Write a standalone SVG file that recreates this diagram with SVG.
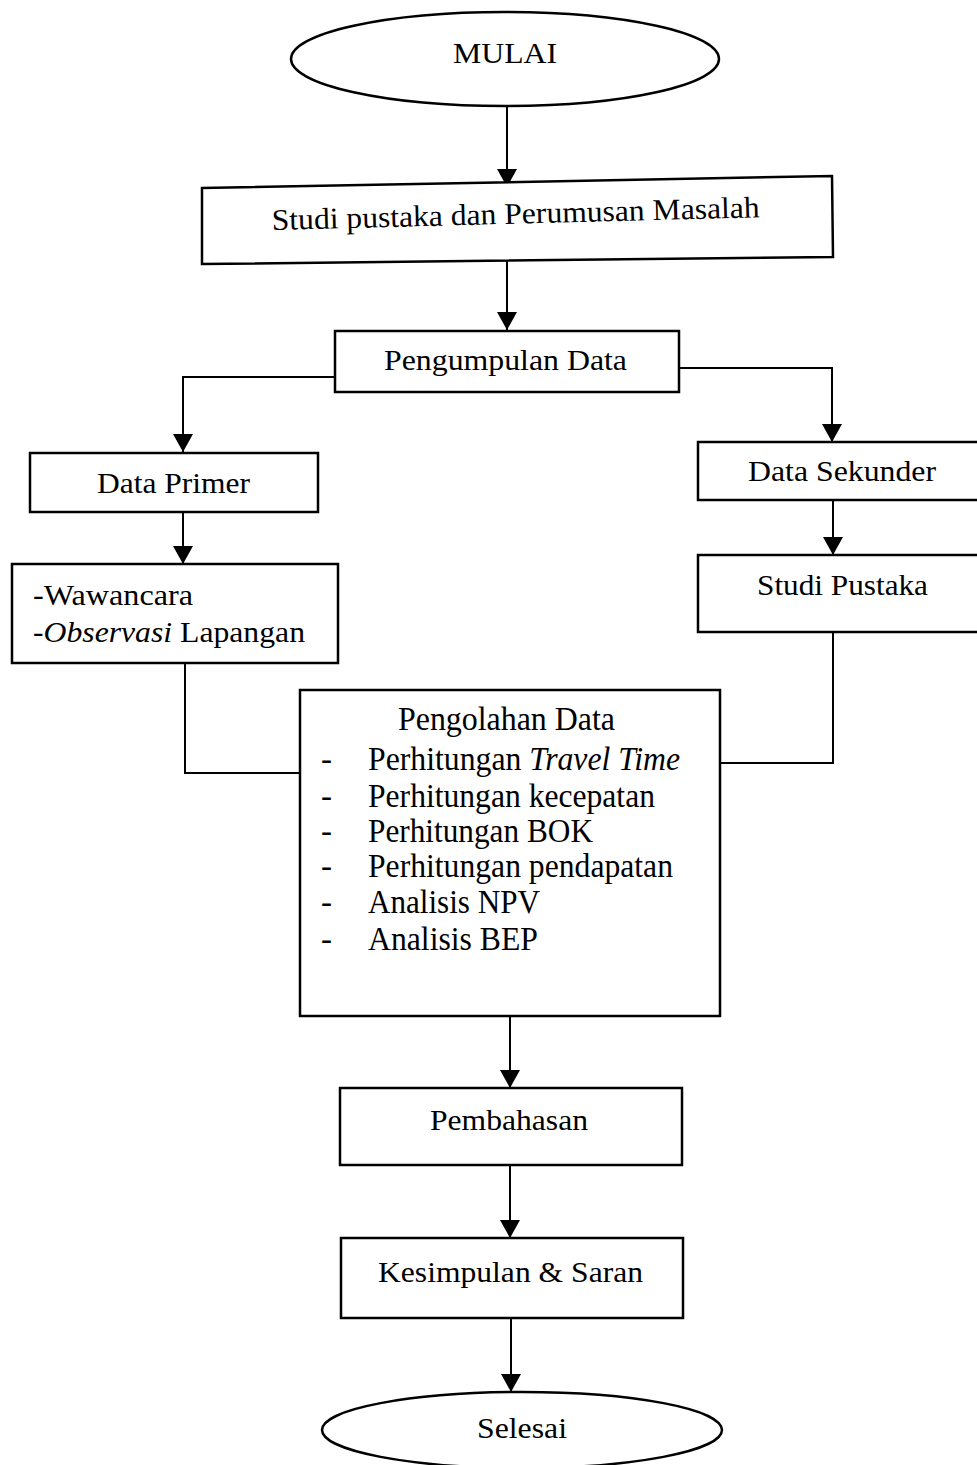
<svg xmlns="http://www.w3.org/2000/svg" width="977" height="1465" viewBox="0 0 977 1465">
<style>
.box{fill:#fff;stroke:#000;stroke-width:2.5}
.ln{fill:none;stroke:#000;stroke-width:2}
.t{font-family:"Liberation Serif","Times New Roman",serif;font-size:30px;fill:#000}
.p{font-family:"Liberation Serif","Times New Roman",serif;font-size:33px;fill:#000}
.i{font-style:italic}
</style>
<defs>
<marker id="ah" markerUnits="userSpaceOnUse" markerWidth="18" markerHeight="20" viewBox="0 0 18 20" refX="18" refY="10" orient="auto">
<path d="M0,0 L18,10 L0,20 z" fill="#000"/>
</marker>
</defs>
<rect width="977" height="1465" fill="#fff"/>
<g id="connectors">
<path class="ln" d="M507,106 L507,187" marker-end="url(#ah)"/>
<path class="ln" d="M507,258 L507,330" marker-end="url(#ah)"/>
<path class="ln" d="M335,377 L183,377 L183,452" marker-end="url(#ah)"/>
<path class="ln" d="M680,368 L832,368 L832,442" marker-end="url(#ah)"/>
<path class="ln" d="M183,512 L183,564" marker-end="url(#ah)"/>
<path class="ln" d="M833,500 L833,555" marker-end="url(#ah)"/>
<path class="ln" d="M185,663 L185,773 L300,773"/>
<path class="ln" d="M833,632 L833,763 L720,763"/>
<path class="ln" d="M510,1016 L510,1088" marker-end="url(#ah)"/>
<path class="ln" d="M510,1165 L510,1238" marker-end="url(#ah)"/>
<path class="ln" d="M511,1318 L511,1392" marker-end="url(#ah)"/>
</g>
<g id="mulai">
<ellipse class="box" cx="505" cy="59" rx="214" ry="47"/>
<text class="t" x="453" y="63" textLength="104" lengthAdjust="spacingAndGlyphs">MULAI</text>
</g>
<g id="studi-perumusan">
<polygon class="box" points="202,188 832,176 833,257 202,264"/>
<text class="t" x="272" y="230" textLength="488" lengthAdjust="spacingAndGlyphs" transform="rotate(-1.5 272 230)">Studi pustaka dan Perumusan Masalah</text>
</g>
<g id="pengumpulan">
<rect class="box" x="335" y="331" width="344" height="61"/>
<text class="t" x="384" y="370" textLength="243" lengthAdjust="spacingAndGlyphs">Pengumpulan Data</text>
</g>
<g id="data-primer">
<rect class="box" x="30" y="453" width="288" height="59"/>
<text class="t" x="97" y="493" textLength="153" lengthAdjust="spacingAndGlyphs">Data Primer</text>
</g>
<g id="wawancara">
<rect class="box" x="12" y="564" width="326" height="99"/>
<text class="t" x="33" y="605" textLength="160" lengthAdjust="spacingAndGlyphs">-Wawancara</text>
<text class="t" x="33" y="642" textLength="272" lengthAdjust="spacingAndGlyphs"><tspan class="i">-Observasi</tspan> Lapangan</text>
</g>
<g id="data-sekunder">
<rect class="box" x="698" y="442" width="290" height="58"/>
<text class="t" x="748" y="481" textLength="188" lengthAdjust="spacingAndGlyphs">Data Sekunder</text>
</g>
<g id="studi-pustaka">
<rect class="box" x="698" y="555" width="290" height="77"/>
<text class="t" x="757" y="595" textLength="171" lengthAdjust="spacingAndGlyphs">Studi Pustaka</text>
</g>
<g id="pengolahan">
<rect class="box" x="300" y="690" width="420" height="326"/>
<text class="p" x="398" y="730" textLength="217" lengthAdjust="spacingAndGlyphs">Pengolahan Data</text>
<text class="p" x="321" y="770">-</text>
<text class="p" x="368" y="770" textLength="312" lengthAdjust="spacingAndGlyphs">Perhitungan <tspan class="i">Travel Time</tspan></text>
<text class="p" x="321" y="807">-</text>
<text class="p" x="368" y="807" textLength="287" lengthAdjust="spacingAndGlyphs">Perhitungan kecepatan</text>
<text class="p" x="321" y="842">-</text>
<text class="p" x="368" y="842" textLength="225" lengthAdjust="spacingAndGlyphs">Perhitungan BOK</text>
<text class="p" x="321" y="877">-</text>
<text class="p" x="368" y="877" textLength="305" lengthAdjust="spacingAndGlyphs">Perhitungan pendapatan</text>
<text class="p" x="321" y="913">-</text>
<text class="p" x="368" y="913" textLength="172" lengthAdjust="spacingAndGlyphs">Analisis NPV</text>
<text class="p" x="321" y="950">-</text>
<text class="p" x="368" y="950" textLength="170" lengthAdjust="spacingAndGlyphs">Analisis BEP</text>
</g>
<g id="pembahasan">
<rect class="box" x="340" y="1088" width="342" height="77"/>
<text class="t" x="430" y="1130" textLength="158" lengthAdjust="spacingAndGlyphs">Pembahasan</text>
</g>
<g id="kesimpulan">
<rect class="box" x="341" y="1238" width="342" height="80"/>
<text class="t" x="378" y="1282" textLength="265" lengthAdjust="spacingAndGlyphs">Kesimpulan &amp; Saran</text>
</g>
<g id="selesai">
<ellipse class="box" cx="522" cy="1430" rx="200" ry="38"/>
<text class="t" x="477" y="1438" textLength="90" lengthAdjust="spacingAndGlyphs">Selesai</text>
</g>
</svg>
